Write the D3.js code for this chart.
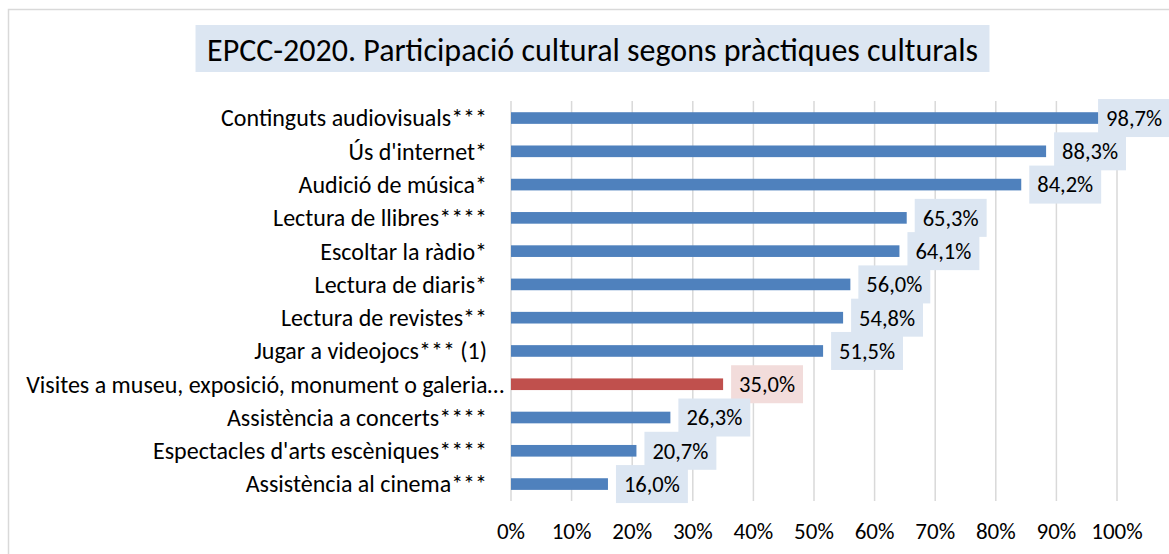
<!DOCTYPE html>
<html><head><meta charset="utf-8">
<script src="https://cdn.jsdelivr.net/npm/d3@7"></script>
<style>
html,body{margin:0;padding:0;background:#fff;}
svg{display:block;font-family:Carlito, Calibri, Lato, sans-serif;}
</style></head>
<body>
<svg id="chart" width="1169" height="554"></svg>
<script>
const title = "EPCC-2020. Participació cultural segons pràctiques culturals";
const categories = [
  "Continguts audiovisuals***",
  "Ús d'internet*",
  "Audició de música*",
  "Lectura de llibres****",
  "Escoltar la ràdio*",
  "Lectura de diaris*",
  "Lectura de revistes**",
  "Jugar a videojocs*** (1)",
  "Visites a museu, exposició, monument o galeria…",
  "Assistència a concerts****",
  "Espectacles d'arts escèniques****",
  "Assistència al cinema***"
];
const values = [98.7, 88.3, 84.2, 65.3, 64.1, 56.0, 54.8, 51.5, 35.0, 26.3, 20.7, 16.0];
const highlighted = ["Visites a museu, exposició, monument o galeria…"];
const xTicks = [0, 10, 20, 30, 40, 50, 60, 70, 80, 90, 100];

const W = 1169, H = 554;
const svg = d3.select("#chart");

// outer chart border
svg.append("rect").attr("x", 8.5).attr("y", 9.5).attr("width", W + 10).attr("height", H + 10)
  .attr("fill", "none").attr("stroke", "#d9d9d9").attr("stroke-width", 1.5);

const x = d3.scaleLinear().domain([0, 100]).range([511, 1117]);
const y = d3.scaleBand().domain(categories).range([101.4, 500.7]).paddingInner(0.65).paddingOuter(0.325);

// gridlines
svg.append("g").selectAll("line").data(xTicks).join("line")
  .attr("x1", d => x(d)).attr("x2", d => x(d))
  .attr("y1", 101).attr("y2", 501)
  .attr("stroke", "#d9d9d9").attr("stroke-width", 1.5);

// x tick labels
svg.append("g").selectAll("text").data(xTicks).join("text")
  .attr("x", d => x(d)).attr("y", 539)
  .attr("text-anchor", "middle")
  .attr("font-size", 23).attr("fill", "#000")
  .text(d => d + "%");

// category labels
svg.append("g").selectAll("text").data(categories).join("text")
  .attr("x", d => d.endsWith("…") ? 504 : 487)
  .attr("y", d => y(d) + y.bandwidth() / 2)
  .attr("dy", "0.35em")
  .attr("text-anchor", "end")
  .attr("font-size", 24).attr("fill", "#000")
  .text(d => d);

// bars
const rows = categories.map((c, i) => ({c, v: values[i], hi: highlighted.includes(c)}));
svg.append("g").selectAll("rect").data(rows).join("rect")
  .attr("x", x(0)).attr("y", d => y(d.c))
  .attr("width", d => x(d.v) - x(0)).attr("height", y.bandwidth())
  .attr("fill", d => d.hi ? "#c0504d" : "#4f81bd");

// data labels
const fmt = v => v.toFixed(1).replace(".", ",") + "%";
const lg = svg.append("g");
rows.forEach(d => {
  const g = lg.append("g");
  const rect = g.append("rect");
  const t = g.append("text").attr("font-size", 22.5).attr("fill", "#000").text(fmt(d.v));
  const tw = t.node().getComputedTextLength();
  const bw = tw + 16, bh = 38;
  let bx = x(d.v) + 8;
  if (bx + bw > W + 1) bx = W + 1 - bw;
  const cy = y(d.c) + y.bandwidth() / 2;
  rect.attr("x", bx).attr("y", cy - bh / 2).attr("width", bw).attr("height", bh)
    .attr("fill", d.hi ? "#f2dcdb" : "#dce6f2");
  t.attr("x", bx + 8).attr("y", cy).attr("dy", "0.35em");
});

// title
const tg = svg.append("g");
const tbox = tg.append("rect");
const tt = tg.append("text").attr("x", 592.5).attr("y", 61)
  .attr("text-anchor", "middle").attr("font-size", 32).attr("fill", "#000").text(title);
const tl = tt.node().getComputedTextLength();
tbox.attr("x", 592.5 - tl / 2 - 11.5).attr("y", 25).attr("width", tl + 23).attr("height", 47).attr("fill", "#dce6f2");
</script>
</body></html>
